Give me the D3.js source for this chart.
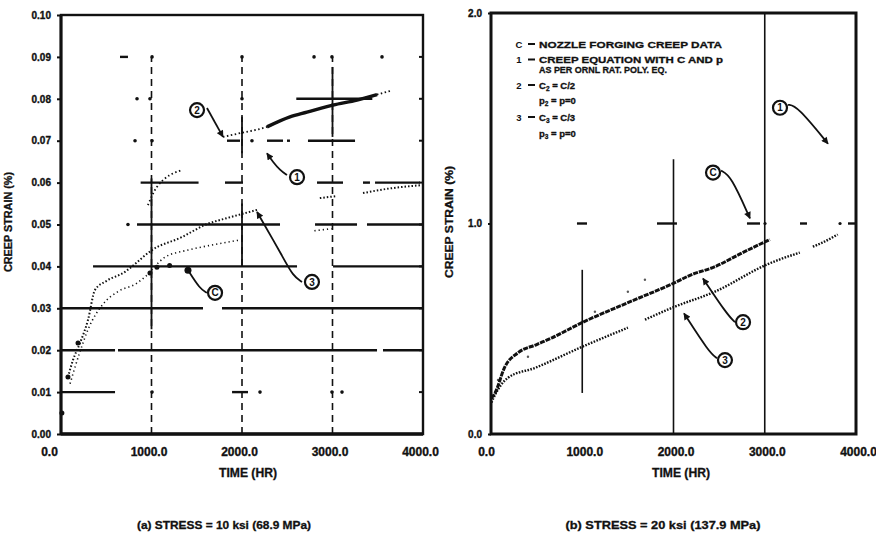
<!DOCTYPE html>
<html>
<head>
<meta charset="utf-8">
<script src="https://cdn.jsdelivr.net/npm/d3@7"></script>
<style>
  body { margin: 0; background: #fff; }
  svg text { font-family: "Liberation Sans", Arial, sans-serif; font-weight: bold; fill: #111; }
</style>
</head>
<body>
<svg id="chart" width="876" height="535"></svg>
<script>
// ---------- data ----------
const timeTicks = [0, 1000, 2000, 3000, 4000];
const strainTicksA = [0, 0.01, 0.02, 0.03, 0.04, 0.05, 0.06, 0.07, 0.08, 0.09, 0.10];
const strainTicksB = [0, 1, 2];

// (a) 10 ksi
const cDataTimeA   = [10, 77, 188, 983, 1060, 1200, 1403];
const cDataStrainA = [0.005, 0.0136, 0.0217, 0.0384, 0.0398, 0.0402, 0.0391];

const curve2TimeA   = [960, 1061, 1337, null, 1790, 1978, 2276, 2530, 2718, 3006, 3271, 3492, 3657];
const curve2StrainA = [0.0546, 0.059, 0.063, null, 0.0709, 0.0718, 0.0733, 0.0757, 0.0768, 0.0785, 0.0797, 0.081, 0.082];

const curve3TimeA   = [77, 133, 210, 298, 376, 500, 707, 785, 1006, 1337, 1591, 1845, 2033, 2166, null, 2860, 3050, null, 3337, 3600, 3989];
const curve3StrainA = [0.0136, 0.0177, 0.0217, 0.0272, 0.0344, 0.0365, 0.0387, 0.040, 0.0439, 0.047, 0.0499, 0.0516, 0.0527, 0.0535, null, 0.0563, 0.0568, null, 0.0575, 0.0585, 0.0594];

const lowerTimeA   = [100, 200, 300, 464, 630, 840, 928, 1149, 1403, 1669, 1978, null, 2800, 2990];
const lowerStrainA = [0.012, 0.019, 0.025, 0.031, 0.034, 0.036, 0.0375, 0.0422, 0.0439, 0.0451, 0.0463, null, 0.0485, 0.049];

// broken (scanned) grid of panel (a): time spans along each strain level
const gridLevelsA = [0.01, 0.02, 0.03, 0.04, 0.05, 0.06, 0.07, 0.08, 0.09];
const gridSpansA = [
  [[0, 597], [1006, 1006], [1890, 2066], [2199, 2199], [2994, 2994], [3105, 3105]],
  [[0, 597], [630, 3492], [3558, 4000]],
  [[0, 1569], [1779, 4000]],
  [[354, 2608], [3006, 4000]],
  [[740, 740], [840, 2420], [2807, 3271], [3381, 4000]],
  [[880, 1520], [1812, 2011], [2829, 3116], [3337, 3414], [3470, 3967]],
  [[818, 818], [1006, 1006], [1834, 1978], [2110, 2110], [2276, 2453], [2497, 2530], [2729, 3249]],
  [[840, 840], [983, 983], [2000, 2000], [2600, 3440]],
  [[652, 740], [1006, 1006], [2000, 2000], [2796, 2796], [2994, 2994], [3547, 3547]]
];
const gridTimesA = [1000, 2000, 3000];
const gridSolidA = [
  [[0.025, 0.061]],
  [[0.067, 0.0757], [0.04, 0.055]],
  [[0.0709, 0.0876]]
];

// (b) 20 ksi
const curve2TimeB   = [5, 44, 153, 296, 500, 668, 997, 1500, 2015, 2181, 2455, 2750, 3056];
const curve2StrainB = [0.17, 0.195, 0.32, 0.386, 0.425, 0.457, 0.529, 0.624, 0.719, 0.754, 0.795, 0.86, 0.924];

const curve3TimeB   = [5, 44, 186, 482, 997, 1500, null, 1687, 2015, 2453, 3023, 3384, null, 3527, 3636, 3800];
const curve3StrainB = [0.15, 0.186, 0.267, 0.314, 0.414, 0.505, null, 0.543, 0.605, 0.676, 0.805, 0.862, null, 0.89, 0.91, 0.948];

const cDataTimeB   = [77, 405, 1139, 1500, 1687];
const cDataStrainB = [0.257, 0.367, 0.581, 0.676, 0.733];

const gridTimesB = [1000, 2000, 3000];
const gridSpanB  = [[0.195, 0.78], [0, 1.305], [0, 2]];
const dashTimesB = [[942, 1052], [1819, 2038], [2805, 2948], [3003, 3003], [3386, 3463], [3825, 3825], [3912, 4000]];

const legendKeys  = ["C", "1", "", "2", "", "3", ""];
const legendTexts = ["NOZZLE FORGING CREEP DATA", "CREEP EQUATION WITH C AND p", "AS PER ORNL RAT. POLY. EQ.",
                     "C|2| = C/2", "p|2| = p=0", "C|3| = C/3", "p|3| = p=0"];

// ---------- drawing ----------
const svg = d3.select("#chart");
const ink = "#111";

const xA = d3.scaleLinear().domain([0, 4000]).range([61, 423]);
const yA = d3.scaleLinear().domain([0, 0.10]).range([434, 15]);
const xB = d3.scaleLinear().domain([0, 4000]).range([491, 856]);
const yB = d3.scaleLinear().domain([0, 2]).range([434, 13]);

const zip = (ts, vs) => ts.map((t, i) => ({ t: t, v: vs[i] }));

function curve(x, y, pts, opts, filter) {
  const line = d3.line()
    .defined(d => d.v != null && (!filter || filter(d)))
    .x(d => x(d.t)).y(d => y(d.v))
    .curve(d3.curveMonotoneX);
  svg.append("path")
    .attr("d", line(pts))
    .attr("fill", "none")
    .attr("stroke", ink)
    .attr("stroke-width", opts.w)
    .attr("stroke-dasharray", opts.dash || null);
}

// arrowhead
svg.append("defs").append("marker")
  .attr("id", "arr").attr("viewBox", "0 0 10 10")
  .attr("refX", 9).attr("refY", 5)
  .attr("markerWidth", 8).attr("markerHeight", 7)
  .attr("markerUnits", "userSpaceOnUse")
  .attr("orient", "auto")
  .append("path").attr("d", "M0,0L10,5L0,10z").attr("fill", ink);

// ===== panel (a) =====
// horizontal broken grid
gridLevelsA.forEach((lv, i) => {
  gridSpansA[i].forEach(s => {
    if (s[0] === s[1]) {
      svg.append("circle").attr("cx", xA(s[0])).attr("cy", yA(lv)).attr("r", 1.8).attr("fill", ink);
    } else {
      svg.append("line")
        .attr("x1", xA(s[0])).attr("x2", xA(s[1]))
        .attr("y1", yA(lv)).attr("y2", yA(lv))
        .attr("stroke", ink).attr("stroke-width", 2.4);
    }
  });
});
// vertical grid: dashed with solid pieces
gridTimesA.forEach((t, i) => {
  svg.append("line")
    .attr("x1", xA(t)).attr("x2", xA(t))
    .attr("y1", yA(0)).attr("y2", yA(0.09))
    .attr("stroke", ink).attr("stroke-width", 1.6)
    .attr("stroke-dasharray", "7,5");
  gridSolidA[i].forEach(s => {
    svg.append("line")
      .attr("x1", xA(t)).attr("x2", xA(t))
      .attr("y1", yA(s[0])).attr("y2", yA(s[1]))
      .attr("stroke", ink).attr("stroke-width", 1.8);
  });
});

// curves
curve(xA, yA, zip(lowerTimeA, lowerStrainA), { w: 1.6, dash: "1.2,3" });
curve(xA, yA, zip(curve3TimeA, curve3StrainA), { w: 2, dash: "1.5,2" });
curve(xA, yA, zip(curve2TimeA, curve2StrainA), { w: 1.8, dash: "1.5,2.5" });
curve(xA, yA, zip(curve2TimeA, curve2StrainA), { w: 3.4 }, d => d.t >= 2276 && d.t <= 3492);
svg.selectAll(null).data(zip(cDataTimeA, cDataStrainA)).join("circle")
  .attr("cx", d => xA(d.t)).attr("cy", d => yA(d.v))
  .attr("r", (d, i) => i === cDataTimeA.length - 1 ? 3.5 : 2.5)
  .attr("fill", ink);

// frame
svg.append("rect")
  .attr("x", xA(0)).attr("y", yA(0.10))
  .attr("width", xA(4000) - xA(0)).attr("height", yA(0) - yA(0.10))
  .attr("fill", "none").attr("stroke", ink).attr("stroke-width", 2.4);
svg.append("line").attr("x1", xA(0)).attr("x2", xA(0)).attr("y1", yA(0.10)).attr("y2", yA(0))
  .attr("stroke", ink).attr("stroke-width", 3);
svg.append("line").attr("x1", xA(0)).attr("x2", xA(4000)).attr("y1", yA(0)).attr("y2", yA(0))
  .attr("stroke", ink).attr("stroke-width", 3.4);
// inward ticks on the right border
strainTicksA.forEach(v => {
  svg.append("line").attr("x1", xA(4000) - 4).attr("x2", xA(4000))
    .attr("y1", yA(v)).attr("y2", yA(v)).attr("stroke", ink).attr("stroke-width", 2);
});

const axA = svg.append("g").attr("transform", `translate(${xA(0)},0)`)
  .call(d3.axisLeft(yA).tickValues(strainTicksA).tickFormat(d3.format(".2f")).tickSize(4).tickPadding(6));
const axAb = svg.append("g").attr("transform", `translate(0,${yA(0)})`)
  .call(d3.axisBottom(xA).tickValues(timeTicks).tickFormat(d3.format(".1f")).tickSize(0).tickPadding(13));
axAb.selectAll("text").attr("dx", (d, i) => i === 0 ? -12 : -3);

// ===== panel (b) =====
gridTimesB.forEach((t, i) => {
  svg.append("line")
    .attr("x1", xB(t)).attr("x2", xB(t))
    .attr("y1", yB(gridSpanB[i][0])).attr("y2", yB(gridSpanB[i][1]))
    .attr("stroke", ink).attr("stroke-width", 1.6);
});
dashTimesB.forEach(s => {
  if (s[0] === s[1]) {
    svg.append("circle").attr("cx", xB(s[0])).attr("cy", yB(1)).attr("r", 1.6).attr("fill", ink);
  } else {
    svg.append("line").attr("x1", xB(s[0])).attr("x2", xB(s[1]))
      .attr("y1", yB(1)).attr("y2", yB(1)).attr("stroke", ink).attr("stroke-width", 2.4);
  }
});
curve(xB, yB, zip(curve3TimeB, curve3StrainB), { w: 2.4, dash: "1.6,1.4" });
curve(xB, yB, zip(curve2TimeB, curve2StrainB), { w: 3, dash: "5,1" });
svg.selectAll(null).data(zip(cDataTimeB, cDataStrainB)).join("circle")
  .attr("cx", d => xB(d.t)).attr("cy", d => yB(d.v))
  .attr("r", 1.2).attr("fill", ink).attr("opacity", 0.7);

svg.append("rect")
  .attr("x", xB(0)).attr("y", yB(2))
  .attr("width", xB(4000) - xB(0)).attr("height", yB(0) - yB(2))
  .attr("fill", "none").attr("stroke", ink).attr("stroke-width", 3);

const axB = svg.append("g").attr("transform", `translate(${xB(0)},0)`)
  .call(d3.axisLeft(yB).tickValues(strainTicksB).tickFormat(d3.format(".1f")).tickSize(3).tickPadding(6));
const axBb = svg.append("g").attr("transform", `translate(0,${yB(0)})`)
  .call(d3.axisBottom(xB).tickValues(timeTicks).tickFormat(d3.format(".1f")).tickSize(0).tickPadding(13));
axBb.selectAll("text").attr("dx", (d, i) => i === 0 ? -5 : 2);

[axA, axAb, axB, axBb].forEach(g => {
  g.select(".domain").remove();
  g.selectAll(".tick line").attr("stroke", ink).attr("stroke-width", 2);
  g.selectAll("text").attr("font-family", null).attr("fill", ink)
    .attr("stroke", ink).attr("stroke-width", 0.35);
});
axA.selectAll("text").attr("font-size", 10);
axB.selectAll("text").attr("font-size", 10);
axAb.selectAll("text").attr("font-size", 12);
axBb.selectAll("text").attr("font-size", 12);

// ===== circled labels with arrows =====
const notesA = [
  { label: "2", at: [1503, 0.0773], path: [[1613, 0.0778], [1790, 0.0709]], head: true },
  { label: "1", at: [2608, 0.0613], path: [[2497, 0.0618], [2420, 0.063], [2343, 0.0649], [2276, 0.067]], head: true },
  { label: "3", at: [2773, 0.0363], path: [[2663, 0.0363], [2564, 0.0377], [2453, 0.0422], [2166, 0.053]], head: true },
  { label: "C", at: [1702, 0.0337], path: [[1613, 0.0337], [1536, 0.0346], [1403, 0.0391]], head: false }
];
const notesB = [
  { label: "1", at: [3167, 1.55], path: [[3255, 1.564], [3353, 1.559], [3693, 1.379]], head: true },
  { label: "C", at: [2433, 1.242], path: [[2521, 1.251], [2630, 1.227], [2838, 1.024]], head: true },
  { label: "2", at: [2762, 0.531], path: [[2674, 0.531], [2586, 0.569], [2323, 0.739]], head: true },
  { label: "3", at: [2564, 0.351], path: [[2477, 0.36], [2389, 0.389], [2115, 0.573]], head: true }
];
function drawNotes(notes, x, y) {
  notes.forEach(n => {
    const line = d3.line().x(p => x(p[0])).y(p => y(p[1])).curve(d3.curveBasis);
    svg.append("path").attr("d", line(n.path))
      .attr("fill", "none").attr("stroke", ink).attr("stroke-width", 1.8)
      .attr("marker-end", n.head ? "url(#arr)" : null);
    svg.append("circle").attr("cx", x(n.at[0])).attr("cy", y(n.at[1])).attr("r", 7)
      .attr("fill", "#fff").attr("stroke", ink).attr("stroke-width", 2.2);
    svg.append("text").attr("x", x(n.at[0])).attr("y", y(n.at[1]) + 3.6)
      .attr("text-anchor", "middle").attr("font-size", 10).text(n.label);
  });
}
drawNotes(notesA, xA, yA);
drawNotes(notesB, xB, yB);

// ===== legend (panel b) =====
const legendY = [47.5, 63, 73, 88.5, 103.5, 120.5, 136.5];
const legendLen = [183, 184, 128, 0, 0, 0, 0];
legendTexts.forEach((txt, i) => {
  if (legendKeys[i]) {
    svg.append("text").attr("x", 519).attr("y", legendY[i]).attr("text-anchor", "middle")
      .attr("font-size", 9.5).text(legendKeys[i]);
    svg.append("line").attr("x1", 528).attr("x2", 535)
      .attr("y1", legendY[i] - 3.5).attr("y2", legendY[i] - 3.5).attr("stroke", ink).attr("stroke-width", 2);
  }
  const t = svg.append("text").attr("x", 539).attr("y", legendY[i]).attr("font-size", 9.5)
    .attr("stroke", ink).attr("stroke-width", 0.3);
  if (legendLen[i]) t.attr("textLength", legendLen[i]).attr("lengthAdjust", "spacingAndGlyphs");
  txt.split("|").forEach((part, k) => {
    const s = t.append("tspan").text(part);
    if (k === 1) s.attr("font-size", 6.5).attr("dy", 2.5);
    if (k === 2) s.attr("dy", -2.5);
  });
});

// ===== titles =====
function title(x, y, txt, size, len, rot) {
  const t = svg.append("text")
    .attr("transform", `translate(${x},${y})` + (rot ? " rotate(-90)" : ""))
    .attr("text-anchor", "middle").attr("font-size", size)
    .attr("stroke", ink).attr("stroke-width", 0.3)
    .text(txt);
  if (len) t.attr("textLength", len).attr("lengthAdjust", "spacingAndGlyphs");
}
title(12, 222, "CREEP STRAIN (%)", 10, 100, true);
title(453, 222, "CREEP STRAIN (%)", 10, 112, true);
title(248, 477, "TIME (HR)", 12, 58, false);
title(681, 477, "TIME (HR)", 12, 58, false);
title(224, 529, "(a)  STRESS = 10 ksi (68.9 MPa)", 11, 174, false);
title(663, 529, "(b)  STRESS = 20 ksi (137.9 MPa)", 11, 195, false);
</script>
</body>
</html>
